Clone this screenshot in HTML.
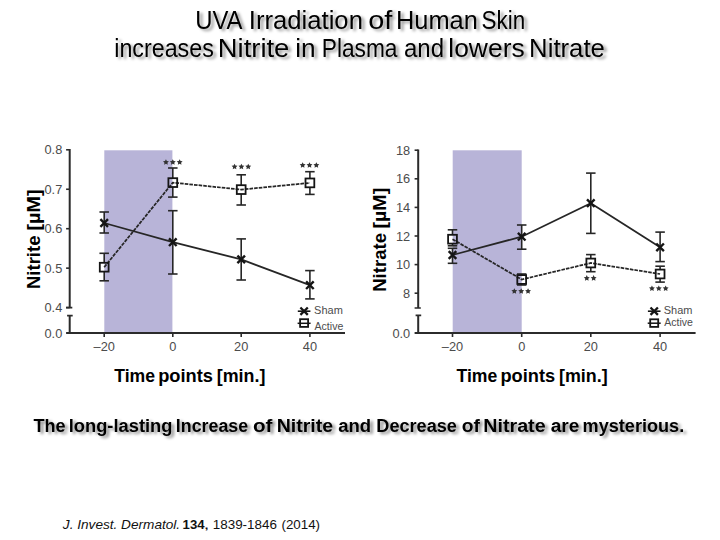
<!DOCTYPE html>
<html><head><meta charset="utf-8"><style>
html,body{margin:0;padding:0;background:#fff;}
body{width:720px;height:540px;overflow:hidden;position:relative;font-family:"Liberation Sans",sans-serif;}
svg{position:absolute;left:0;top:0;}
svg text{font-family:"Liberation Sans",sans-serif;}
</style></head><body>
<svg width="720" height="540" viewBox="0 0 720 540">
<defs>
<filter id="sh" x="-5%" y="-30%" width="110%" height="170%">
<feGaussianBlur in="SourceAlpha" stdDeviation="1.35"/>
<feOffset dx="2.6" dy="2" result="b"/>
<feFlood flood-color="#000" flood-opacity="0.42"/>
<feComposite in2="b" operator="in"/>
<feMerge><feMergeNode/><feMergeNode in="SourceGraphic"/></feMerge>
</filter>
<filter id="sh2" x="-5%" y="-30%" width="110%" height="170%">
<feGaussianBlur in="SourceAlpha" stdDeviation="1.5"/>
<feOffset dx="2.6" dy="2.4" result="b"/>
<feFlood flood-color="#000" flood-opacity="0.45"/>
<feComposite in2="b" operator="in"/>
<feMerge><feMergeNode/><feMergeNode in="SourceGraphic"/></feMerge>
</filter>
</defs>
<g filter="url(#sh)">
<text x="195.18" y="28.8" font-size="25.6" font-weight="normal" font-style="normal" fill="#000" textLength="47.36" lengthAdjust="spacingAndGlyphs" >UVA</text><text x="248.84" y="28.8" font-size="25.6" font-weight="normal" font-style="normal" fill="#000" textLength="114.07" lengthAdjust="spacingAndGlyphs" >Irradiation</text><text x="368.28" y="28.8" font-size="25.6" font-weight="normal" font-style="normal" fill="#000" textLength="24.16" lengthAdjust="spacingAndGlyphs" >of</text><text x="395.92" y="28.8" font-size="25.6" font-weight="normal" font-style="normal" fill="#000" textLength="81.95" lengthAdjust="spacingAndGlyphs" >Human</text><text x="481.51" y="28.8" font-size="25.6" font-weight="normal" font-style="normal" fill="#000" textLength="43.66" lengthAdjust="spacingAndGlyphs" >Skin</text>
<text x="114.26" y="56.8" font-size="25.6" font-weight="normal" font-style="normal" fill="#000" textLength="99.57" lengthAdjust="spacingAndGlyphs" >increases</text><text x="217.75" y="56.8" font-size="25.6" font-weight="normal" font-style="normal" fill="#000" textLength="71.64" lengthAdjust="spacingAndGlyphs" >Nitrite</text><text x="295.17" y="56.8" font-size="25.6" font-weight="normal" font-style="normal" fill="#000" textLength="20.42" lengthAdjust="spacingAndGlyphs" >in</text><text x="321.74" y="56.8" font-size="25.6" font-weight="normal" font-style="normal" fill="#000" textLength="75.73" lengthAdjust="spacingAndGlyphs" >Plasma</text><text x="403.99" y="56.8" font-size="25.6" font-weight="normal" font-style="normal" fill="#000" textLength="40.06" lengthAdjust="spacingAndGlyphs" >and</text><text x="448.25" y="56.8" font-size="25.6" font-weight="normal" font-style="normal" fill="#000" textLength="76.44" lengthAdjust="spacingAndGlyphs" >lowers</text><text x="529.14" y="56.8" font-size="25.6" font-weight="normal" font-style="normal" fill="#000" textLength="75.72" lengthAdjust="spacingAndGlyphs" >Nitrate</text>
</g>
<g filter="url(#sh2)">
<text x="33.42" y="431.7" font-size="19.2" font-weight="bold" font-style="normal" fill="#000" textLength="32.19" lengthAdjust="spacingAndGlyphs" >The</text><text x="68.76" y="431.7" font-size="19.2" font-weight="bold" font-style="normal" fill="#000" textLength="103.70" lengthAdjust="spacingAndGlyphs" >long-lasting</text><text x="175.82" y="431.7" font-size="19.2" font-weight="bold" font-style="normal" fill="#000" textLength="72.29" lengthAdjust="spacingAndGlyphs" >Increase</text><text x="252.97" y="431.7" font-size="19.2" font-weight="bold" font-style="normal" fill="#000" textLength="19.49" lengthAdjust="spacingAndGlyphs" >of</text><text x="276.71" y="431.7" font-size="19.2" font-weight="bold" font-style="normal" fill="#000" textLength="56.44" lengthAdjust="spacingAndGlyphs" >Nitrite</text><text x="338.23" y="431.7" font-size="19.2" font-weight="bold" font-style="normal" fill="#000" textLength="32.95" lengthAdjust="spacingAndGlyphs" >and</text><text x="376.30" y="431.7" font-size="19.2" font-weight="bold" font-style="normal" fill="#000" textLength="80.57" lengthAdjust="spacingAndGlyphs" >Decrease</text><text x="461.77" y="431.7" font-size="19.2" font-weight="bold" font-style="normal" fill="#000" textLength="18.19" lengthAdjust="spacingAndGlyphs" >of</text><text x="483.20" y="431.7" font-size="19.2" font-weight="bold" font-style="normal" fill="#000" textLength="62.46" lengthAdjust="spacingAndGlyphs" >Nitrate</text><text x="550.72" y="431.7" font-size="19.2" font-weight="bold" font-style="normal" fill="#000" textLength="28.67" lengthAdjust="spacingAndGlyphs" >are</text><text x="582.59" y="431.7" font-size="19.2" font-weight="bold" font-style="normal" fill="#000" textLength="101.63" lengthAdjust="spacingAndGlyphs" >mysterious.</text>
</g>
<rect x="104.3" y="150.3" width="68.10" height="182.70" fill="#b8b4d8"/><path d="M69.7,149.0V307.6M69.7,315.6V333" stroke="#2b2b2b" stroke-width="2" fill="none"/><path d="M66.10000000000001,307.6H72.3M67.10000000000001,315.6H72.7" stroke="#2b2b2b" stroke-width="1.6" fill="none"/><line x1="66.10000000000001" y1="333" x2="345" y2="333" stroke="#2b2b2b" stroke-width="2"/><line x1="66.10000000000001" y1="149.80" x2="69.7" y2="149.80" stroke="#2b2b2b" stroke-width="1.6"/><line x1="66.10000000000001" y1="189.25" x2="69.7" y2="189.25" stroke="#2b2b2b" stroke-width="1.6"/><line x1="66.10000000000001" y1="228.70" x2="69.7" y2="228.70" stroke="#2b2b2b" stroke-width="1.6"/><line x1="66.10000000000001" y1="268.15" x2="69.7" y2="268.15" stroke="#2b2b2b" stroke-width="1.6"/><line x1="66.10000000000001" y1="307.60" x2="69.7" y2="307.60" stroke="#2b2b2b" stroke-width="1.6"/><line x1="104.2" y1="333" x2="104.2" y2="337" stroke="#2b2b2b" stroke-width="1.6"/><line x1="172.8" y1="333" x2="172.8" y2="337" stroke="#2b2b2b" stroke-width="1.6"/><line x1="241.2" y1="333" x2="241.2" y2="337" stroke="#2b2b2b" stroke-width="1.6"/><line x1="309.9" y1="333" x2="309.9" y2="337" stroke="#2b2b2b" stroke-width="1.6"/><text x="62.300000000000004" y="154.30" text-anchor="end" font-size="12.8" fill="#4c4c4c">0.8</text><text x="62.300000000000004" y="193.75" text-anchor="end" font-size="12.8" fill="#4c4c4c">0.7</text><text x="62.300000000000004" y="233.20" text-anchor="end" font-size="12.8" fill="#4c4c4c">0.6</text><text x="62.300000000000004" y="272.65" text-anchor="end" font-size="12.8" fill="#4c4c4c">0.5</text><text x="62.300000000000004" y="312.10" text-anchor="end" font-size="12.8" fill="#4c4c4c">0.4</text><text x="62.300000000000004" y="337.50" text-anchor="end" font-size="12.8" fill="#4c4c4c">0.0</text><text x="104.2" y="351" text-anchor="middle" font-size="12.8" fill="#4c4c4c">–20</text><text x="172.8" y="351" text-anchor="middle" font-size="12.8" fill="#4c4c4c">0</text><text x="241.2" y="351" text-anchor="middle" font-size="12.8" fill="#4c4c4c">20</text><text x="309.9" y="351" text-anchor="middle" font-size="12.8" fill="#4c4c4c">40</text><polyline points="104.2,223 172.8,242.2 241.2,259.4 309.9,285.2" fill="none" stroke="#262626" stroke-width="1.8"/><polyline points="104.2,267.2 172.8,182.6 241.2,189.6 309.9,182.9" fill="none" stroke="#262626" stroke-width="1.75" stroke-dasharray="3.6 1.05"/><line x1="104.2" y1="212" x2="104.2" y2="233" stroke="#262626" stroke-width="1.6"/><line x1="99.45" y1="212" x2="108.95" y2="212" stroke="#262626" stroke-width="1.6"/><line x1="99.45" y1="233" x2="108.95" y2="233" stroke="#262626" stroke-width="1.6"/><line x1="172.8" y1="210.7" x2="172.8" y2="274" stroke="#262626" stroke-width="1.6"/><line x1="168.05" y1="210.7" x2="177.55" y2="210.7" stroke="#262626" stroke-width="1.6"/><line x1="168.05" y1="274" x2="177.55" y2="274" stroke="#262626" stroke-width="1.6"/><line x1="241.2" y1="238.9" x2="241.2" y2="280" stroke="#262626" stroke-width="1.6"/><line x1="236.45" y1="238.9" x2="245.95" y2="238.9" stroke="#262626" stroke-width="1.6"/><line x1="236.45" y1="280" x2="245.95" y2="280" stroke="#262626" stroke-width="1.6"/><line x1="309.9" y1="270.6" x2="309.9" y2="298.9" stroke="#262626" stroke-width="1.6"/><line x1="305.15" y1="270.6" x2="314.65" y2="270.6" stroke="#262626" stroke-width="1.6"/><line x1="305.15" y1="298.9" x2="314.65" y2="298.9" stroke="#262626" stroke-width="1.6"/><path d="M104.2,253.3V262.8M104.2,271.59999999999997V280.8" stroke="#262626" stroke-width="1.6"/><line x1="99.45" y1="253.3" x2="108.95" y2="253.3" stroke="#262626" stroke-width="1.6"/><line x1="99.45" y1="280.8" x2="108.95" y2="280.8" stroke="#262626" stroke-width="1.6"/><path d="M172.8,168V178.2M172.8,187.0V197.1" stroke="#262626" stroke-width="1.6"/><line x1="168.05" y1="168" x2="177.55" y2="168" stroke="#262626" stroke-width="1.6"/><line x1="168.05" y1="197.1" x2="177.55" y2="197.1" stroke="#262626" stroke-width="1.6"/><path d="M241.2,174.8V185.2M241.2,194.0V205" stroke="#262626" stroke-width="1.6"/><line x1="236.45" y1="174.8" x2="245.95" y2="174.8" stroke="#262626" stroke-width="1.6"/><line x1="236.45" y1="205" x2="245.95" y2="205" stroke="#262626" stroke-width="1.6"/><path d="M309.9,171.7V178.5M309.9,187.3V194.4" stroke="#262626" stroke-width="1.6"/><line x1="305.15" y1="171.7" x2="314.65" y2="171.7" stroke="#262626" stroke-width="1.6"/><line x1="305.15" y1="194.4" x2="314.65" y2="194.4" stroke="#262626" stroke-width="1.6"/><path d="M100.40,219.20L108.00,226.80M100.40,226.80L108.00,219.20" stroke="#151515" stroke-width="2.4" fill="none"/><path d="M169.00,238.40L176.60,246.00M169.00,246.00L176.60,238.40" stroke="#151515" stroke-width="2.4" fill="none"/><path d="M237.40,255.60L245.00,263.20M237.40,263.20L245.00,255.60" stroke="#151515" stroke-width="2.4" fill="none"/><path d="M306.10,281.40L313.70,289.00M306.10,289.00L313.70,281.40" stroke="#151515" stroke-width="2.4" fill="none"/><rect x="99.80" y="262.80" width="8.8" height="8.8" fill="none" stroke="#151515" stroke-width="1.8"/><rect x="168.40" y="178.20" width="8.8" height="8.8" fill="none" stroke="#151515" stroke-width="1.8"/><rect x="236.80" y="185.20" width="8.8" height="8.8" fill="none" stroke="#151515" stroke-width="1.8"/><rect x="305.50" y="178.50" width="8.8" height="8.8" fill="none" stroke="#151515" stroke-width="1.8"/><polygon points="165.95,159.20 166.86,161.05 168.90,161.34 167.42,162.78 167.77,164.81 165.95,163.85 164.13,164.81 164.48,162.78 163.00,161.34 165.04,161.05" fill="#333"/><polygon points="172.80,159.20 173.71,161.05 175.75,161.34 174.27,162.78 174.62,164.81 172.80,163.85 170.98,164.81 171.33,162.78 169.85,161.34 171.89,161.05" fill="#333"/><polygon points="179.65,159.20 180.56,161.05 182.60,161.34 181.12,162.78 181.47,164.81 179.65,163.85 177.83,164.81 178.18,162.78 176.70,161.34 178.74,161.05" fill="#333"/><polygon points="234.55,163.70 235.46,165.55 237.50,165.84 236.02,167.28 236.37,169.31 234.55,168.35 232.73,169.31 233.08,167.28 231.60,165.84 233.64,165.55" fill="#333"/><polygon points="241.40,163.70 242.31,165.55 244.35,165.84 242.87,167.28 243.22,169.31 241.40,168.35 239.58,169.31 239.93,167.28 238.45,165.84 240.49,165.55" fill="#333"/><polygon points="248.25,163.70 249.16,165.55 251.20,165.84 249.72,167.28 250.07,169.31 248.25,168.35 246.43,169.31 246.78,167.28 245.30,165.84 247.34,165.55" fill="#333"/><polygon points="302.65,162.20 303.56,164.05 305.60,164.34 304.12,165.78 304.47,167.81 302.65,166.85 300.83,167.81 301.18,165.78 299.70,164.34 301.74,164.05" fill="#333"/><polygon points="309.50,162.20 310.41,164.05 312.45,164.34 310.97,165.78 311.32,167.81 309.50,166.85 307.68,167.81 308.03,165.78 306.55,164.34 308.59,164.05" fill="#333"/><polygon points="316.35,162.20 317.26,164.05 319.30,164.34 317.82,165.78 318.17,167.81 316.35,166.85 314.53,167.81 314.88,165.78 313.40,164.34 315.44,164.05" fill="#333"/><line x1="297.8" y1="311.2" x2="310.40000000000003" y2="311.2" stroke="#151515" stroke-width="1.6"/><path d="M300.40,307.50L307.80,314.90M300.40,314.90L307.80,307.50" stroke="#151515" stroke-width="2.3" fill="none"/><line x1="297.6" y1="323.3" x2="310.6" y2="323.3" stroke="#151515" stroke-width="1.5"/><rect x="300.10" y="319.20" width="8" height="7.70" fill="none" stroke="#151515" stroke-width="1.8"/><text x="314.12" y="313.7" font-size="10.7" font-weight="normal" font-style="normal" fill="#4c4c4c" textLength="28.69" lengthAdjust="spacingAndGlyphs" >Sham</text><text x="314.58" y="329.5" font-size="10.7" font-weight="normal" font-style="normal" fill="#4c4c4c" textLength="28.68" lengthAdjust="spacingAndGlyphs" >Active</text><g transform="translate(39.8,300) rotate(-90)"><text x="10.98" y="0" font-size="18.6" font-weight="bold" font-style="normal" fill="#000" textLength="53.54" lengthAdjust="spacingAndGlyphs" >Nitrite</text><text x="69.49" y="0" font-size="18.6" font-weight="bold" font-style="normal" fill="#000" textLength="41.00" lengthAdjust="spacingAndGlyphs" >[µM]</text></g><text x="114.22" y="381.8" font-size="18.3" font-weight="bold" font-style="normal" fill="#000" textLength="40.77" lengthAdjust="spacingAndGlyphs" >Time</text><text x="158.13" y="381.8" font-size="18.3" font-weight="bold" font-style="normal" fill="#000" textLength="54.79" lengthAdjust="spacingAndGlyphs" >points</text><text x="216.80" y="381.8" font-size="18.3" font-weight="bold" font-style="normal" fill="#000" textLength="48.59" lengthAdjust="spacingAndGlyphs" >[min.]</text>
<rect x="452.7" y="150.3" width="69.00" height="182.70" fill="#b8b4d8"/><path d="M418.2,149.39999999999998V308M418.2,315.4V333" stroke="#2b2b2b" stroke-width="2" fill="none"/><path d="M414.59999999999997,308H420.8M415.59999999999997,315.4H421.2" stroke="#2b2b2b" stroke-width="1.6" fill="none"/><line x1="414.59999999999997" y1="333" x2="695.6" y2="333" stroke="#2b2b2b" stroke-width="2"/><line x1="414.59999999999997" y1="150.20" x2="418.2" y2="150.20" stroke="#2b2b2b" stroke-width="1.6"/><line x1="414.59999999999997" y1="178.80" x2="418.2" y2="178.80" stroke="#2b2b2b" stroke-width="1.6"/><line x1="414.59999999999997" y1="207.40" x2="418.2" y2="207.40" stroke="#2b2b2b" stroke-width="1.6"/><line x1="414.59999999999997" y1="236.00" x2="418.2" y2="236.00" stroke="#2b2b2b" stroke-width="1.6"/><line x1="414.59999999999997" y1="264.60" x2="418.2" y2="264.60" stroke="#2b2b2b" stroke-width="1.6"/><line x1="414.59999999999997" y1="293.20" x2="418.2" y2="293.20" stroke="#2b2b2b" stroke-width="1.6"/><line x1="452.5" y1="333" x2="452.5" y2="337" stroke="#2b2b2b" stroke-width="1.6"/><line x1="521.7" y1="333" x2="521.7" y2="337" stroke="#2b2b2b" stroke-width="1.6"/><line x1="590.8" y1="333" x2="590.8" y2="337" stroke="#2b2b2b" stroke-width="1.6"/><line x1="660.1" y1="333" x2="660.1" y2="337" stroke="#2b2b2b" stroke-width="1.6"/><text x="410.2" y="154.70" text-anchor="end" font-size="12.8" fill="#4c4c4c">18</text><text x="410.2" y="183.30" text-anchor="end" font-size="12.8" fill="#4c4c4c">16</text><text x="410.2" y="211.90" text-anchor="end" font-size="12.8" fill="#4c4c4c">14</text><text x="410.2" y="240.50" text-anchor="end" font-size="12.8" fill="#4c4c4c">12</text><text x="410.2" y="269.10" text-anchor="end" font-size="12.8" fill="#4c4c4c">10</text><text x="410.2" y="297.70" text-anchor="end" font-size="12.8" fill="#4c4c4c">8</text><text x="410.2" y="337.50" text-anchor="end" font-size="12.8" fill="#4c4c4c">0.0</text><text x="452.5" y="351" text-anchor="middle" font-size="12.8" fill="#4c4c4c">–20</text><text x="521.7" y="351" text-anchor="middle" font-size="12.8" fill="#4c4c4c">0</text><text x="590.8" y="351" text-anchor="middle" font-size="12.8" fill="#4c4c4c">20</text><text x="660.1" y="351" text-anchor="middle" font-size="12.8" fill="#4c4c4c">40</text><polyline points="452.5,255 521.7,236.7 590.8,203.2 660.1,247.3" fill="none" stroke="#262626" stroke-width="1.8"/><polyline points="452.5,239.2 521.7,279.5 590.8,263 660.1,274" fill="none" stroke="#262626" stroke-width="1.75" stroke-dasharray="3.6 1.05"/><line x1="452.5" y1="248.3" x2="452.5" y2="263.3" stroke="#262626" stroke-width="1.6"/><line x1="447.75" y1="248.3" x2="457.25" y2="248.3" stroke="#262626" stroke-width="1.6"/><line x1="447.75" y1="263.3" x2="457.25" y2="263.3" stroke="#262626" stroke-width="1.6"/><line x1="521.7" y1="225" x2="521.7" y2="249.2" stroke="#262626" stroke-width="1.6"/><line x1="516.95" y1="225" x2="526.45" y2="225" stroke="#262626" stroke-width="1.6"/><line x1="516.95" y1="249.2" x2="526.45" y2="249.2" stroke="#262626" stroke-width="1.6"/><line x1="590.8" y1="173.1" x2="590.8" y2="233.4" stroke="#262626" stroke-width="1.6"/><line x1="586.05" y1="173.1" x2="595.55" y2="173.1" stroke="#262626" stroke-width="1.6"/><line x1="586.05" y1="233.4" x2="595.55" y2="233.4" stroke="#262626" stroke-width="1.6"/><line x1="660.1" y1="232.1" x2="660.1" y2="261.6" stroke="#262626" stroke-width="1.6"/><line x1="655.35" y1="232.1" x2="664.85" y2="232.1" stroke="#262626" stroke-width="1.6"/><line x1="655.35" y1="261.6" x2="664.85" y2="261.6" stroke="#262626" stroke-width="1.6"/><path d="M452.5,229.8V234.79999999999998M452.5,243.6V245.8" stroke="#262626" stroke-width="1.6"/><line x1="447.75" y1="229.8" x2="457.25" y2="229.8" stroke="#262626" stroke-width="1.6"/><line x1="447.75" y1="245.8" x2="457.25" y2="245.8" stroke="#262626" stroke-width="1.6"/><path d="M521.7,274V275.1M521.7,283.9V285" stroke="#262626" stroke-width="1.6"/><line x1="516.95" y1="274" x2="526.45" y2="274" stroke="#262626" stroke-width="1.6"/><line x1="516.95" y1="285" x2="526.45" y2="285" stroke="#262626" stroke-width="1.6"/><path d="M590.8,254.6V258.6M590.8,267.4V271.7" stroke="#262626" stroke-width="1.6"/><line x1="586.05" y1="254.6" x2="595.55" y2="254.6" stroke="#262626" stroke-width="1.6"/><line x1="586.05" y1="271.7" x2="595.55" y2="271.7" stroke="#262626" stroke-width="1.6"/><path d="M660.1,266.2V269.6M660.1,278.4V282.1" stroke="#262626" stroke-width="1.6"/><line x1="655.35" y1="266.2" x2="664.85" y2="266.2" stroke="#262626" stroke-width="1.6"/><line x1="655.35" y1="282.1" x2="664.85" y2="282.1" stroke="#262626" stroke-width="1.6"/><path d="M448.70,251.20L456.30,258.80M448.70,258.80L456.30,251.20" stroke="#151515" stroke-width="2.4" fill="none"/><path d="M517.90,232.90L525.50,240.50M517.90,240.50L525.50,232.90" stroke="#151515" stroke-width="2.4" fill="none"/><path d="M587.00,199.40L594.60,207.00M587.00,207.00L594.60,199.40" stroke="#151515" stroke-width="2.4" fill="none"/><path d="M656.30,243.50L663.90,251.10M656.30,251.10L663.90,243.50" stroke="#151515" stroke-width="2.4" fill="none"/><rect x="448.10" y="234.80" width="8.8" height="8.8" fill="none" stroke="#151515" stroke-width="1.8"/><rect x="517.30" y="275.10" width="8.8" height="8.8" fill="none" stroke="#151515" stroke-width="1.8"/><rect x="586.40" y="258.60" width="8.8" height="8.8" fill="none" stroke="#151515" stroke-width="1.8"/><rect x="655.70" y="269.60" width="8.8" height="8.8" fill="none" stroke="#151515" stroke-width="1.8"/><polygon points="514.35,288.20 515.26,290.05 517.30,290.34 515.82,291.78 516.17,293.81 514.35,292.85 512.53,293.81 512.88,291.78 511.40,290.34 513.44,290.05" fill="#333"/><polygon points="521.20,288.20 522.11,290.05 524.15,290.34 522.67,291.78 523.02,293.81 521.20,292.85 519.38,293.81 519.73,291.78 518.25,290.34 520.29,290.05" fill="#333"/><polygon points="528.05,288.20 528.96,290.05 531.00,290.34 529.52,291.78 529.87,293.81 528.05,292.85 526.23,293.81 526.58,291.78 525.10,290.34 527.14,290.05" fill="#333"/><polygon points="586.78,275.10 587.69,276.95 589.72,277.24 588.25,278.68 588.60,280.71 586.78,279.75 584.95,280.71 585.30,278.68 583.83,277.24 585.86,276.95" fill="#333"/><polygon points="593.63,275.10 594.54,276.95 596.57,277.24 595.10,278.68 595.45,280.71 593.63,279.75 591.80,280.71 592.15,278.68 590.68,277.24 592.71,276.95" fill="#333"/><polygon points="651.95,285.40 652.86,287.25 654.90,287.54 653.42,288.98 653.77,291.01 651.95,290.05 650.13,291.01 650.48,288.98 649.00,287.54 651.04,287.25" fill="#333"/><polygon points="658.80,285.40 659.71,287.25 661.75,287.54 660.27,288.98 660.62,291.01 658.80,290.05 656.98,291.01 657.33,288.98 655.85,287.54 657.89,287.25" fill="#333"/><polygon points="665.65,285.40 666.56,287.25 668.60,287.54 667.12,288.98 667.47,291.01 665.65,290.05 663.83,291.01 664.18,288.98 662.70,287.54 664.74,287.25" fill="#333"/><line x1="647.9000000000001" y1="311.2" x2="660.5" y2="311.2" stroke="#151515" stroke-width="1.6"/><path d="M650.50,307.50L657.90,314.90M650.50,314.90L657.90,307.50" stroke="#151515" stroke-width="2.3" fill="none"/><line x1="647.7" y1="323.2" x2="660.7" y2="323.2" stroke="#151515" stroke-width="1.5"/><rect x="650.20" y="319.30" width="8" height="7.60" fill="none" stroke="#151515" stroke-width="1.8"/><text x="663.72" y="314.4" font-size="10.7" font-weight="normal" font-style="normal" fill="#4c4c4c" textLength="28.69" lengthAdjust="spacingAndGlyphs" >Sham</text><text x="664.18" y="326.0" font-size="10.7" font-weight="normal" font-style="normal" fill="#4c4c4c" textLength="28.68" lengthAdjust="spacingAndGlyphs" >Active</text><g transform="translate(386.1,300) rotate(-90)"><text x="8.17" y="0" font-size="18.6" font-weight="bold" font-style="normal" fill="#000" textLength="58.85" lengthAdjust="spacingAndGlyphs" >Nitrate</text><text x="71.40" y="0" font-size="18.6" font-weight="bold" font-style="normal" fill="#000" textLength="40.79" lengthAdjust="spacingAndGlyphs" >[µM]</text></g><text x="456.52" y="381.8" font-size="18.3" font-weight="bold" font-style="normal" fill="#000" textLength="40.77" lengthAdjust="spacingAndGlyphs" >Time</text><text x="500.43" y="381.8" font-size="18.3" font-weight="bold" font-style="normal" fill="#000" textLength="54.69" lengthAdjust="spacingAndGlyphs" >points</text><text x="559.00" y="381.8" font-size="18.3" font-weight="bold" font-style="normal" fill="#000" textLength="48.70" lengthAdjust="spacingAndGlyphs" >[min.]</text>
<text x="62.85" y="529.4" font-size="13" font-weight="normal" font-style="italic" fill="#111" textLength="117.30" lengthAdjust="spacingAndGlyphs" >J. Invest. Dermatol.</text><text x="182.58" y="529.4" font-size="13" font-weight="bold" font-style="normal" fill="#111" textLength="21.98" lengthAdjust="spacingAndGlyphs" >134</text><text x="203.74" y="529.4" font-size="13" font-weight="normal" font-style="normal" fill="#111" textLength="5.56" lengthAdjust="spacingAndGlyphs" >,</text><text x="212.78" y="529.4" font-size="13" font-weight="normal" font-style="normal" fill="#111" textLength="64.19" lengthAdjust="spacingAndGlyphs" >1839-1846</text><text x="281.47" y="529.4" font-size="13" font-weight="normal" font-style="normal" fill="#111" textLength="38.53" lengthAdjust="spacingAndGlyphs" >(2014)</text>
</svg>
</body></html>
